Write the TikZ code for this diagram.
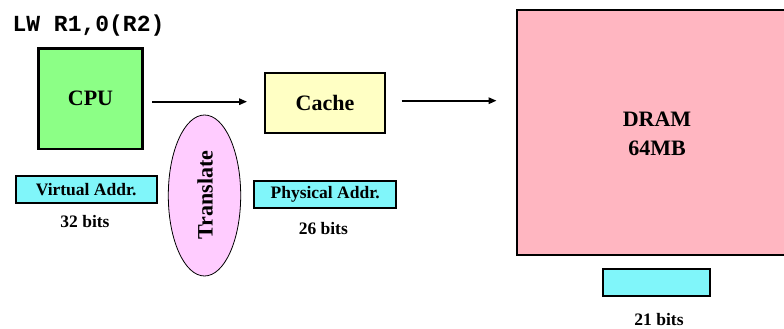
\documentclass[tikz,border=0pt]{standalone}
\usepackage{fontspec}
\setmainfont{Liberation Serif}
\setmonofont{Liberation Mono}
\usetikzlibrary{arrows.meta,shapes.geometric}
\definecolor{cpugreen}{HTML}{8CFF86}
\definecolor{cacheyellow}{HTML}{FFFFC4}
\definecolor{drampink}{HTML}{FFB6C1}
\definecolor{addrcyan}{HTML}{80F6FA}
\definecolor{transpink}{HTML}{FFCCFF}
\tikzset{
  unitbox/.style={draw=black, line width=2.2pt, inner sep=0pt, font=\fontsize{22}{26}\selectfont\bfseries},
  addrbox/.style={draw=black, line width=2pt, fill=addrcyan, inner sep=0pt, font=\fontsize{17.5}{20}\selectfont\bfseries},
  bitslabel/.style={inner sep=0pt, font=\fontsize{17.5}{20}\selectfont\bfseries},
  flow/.style={line width=1.6pt, -{Triangle[length=8pt,width=6.5pt]}}
}
\begin{document}
\begin{tikzpicture}[x=1pt,y=-1pt]
\useasboundingbox (0,0) rectangle (784,329);
\clip (0,0) rectangle (784,329);
\node[inner sep=0pt, anchor=base, font=\fontsize{23}{26}\selectfont\ttfamily\bfseries] (lw) at (88.5,32) {LW R1,0(R2)};
\node[unitbox, fill=cpugreen, minimum width=104pt, minimum height=100.5pt] (cpu) at (90.5,98.7) {CPU};
\node[unitbox, fill=cacheyellow, minimum width=120pt, minimum height=60pt] (cache) at (325,103.3) {Cache};
\node[unitbox, fill=drampink, minimum width=280pt, minimum height=245pt, align=center,
      font=\fontsize{22}{29}\selectfont\bfseries] (dram) at (656.7,132.5) {};
\node[inner sep=0pt, align=center, font=\fontsize{22}{29}\selectfont\bfseries] (dramtxt) at (657,134) {DRAM\\64MB};
\node[addrbox, minimum width=141pt, minimum height=27pt] (va) at (86.2,189.2) {Virtual Addr.};
\node[bitslabel] (vab) at (85,221.5) {32 bits};
\node[ellipse, draw=black, line width=0.8pt, fill=transpink, minimum width=72.4pt, minimum height=161pt, inner sep=0pt] (tr) at (204.5,195.5) {};
\node[rotate=90, inner sep=0pt, font=\fontsize{22}{26}\selectfont\bfseries] (trtxt) at (205,195) {Translate};
\node[addrbox, minimum width=141.7pt, minimum height=27.3pt] (pa) at (325.2,194.7) {Physical Addr.};
\node[bitslabel] (pab) at (323.3,228.3) {26 bits};
\node[addrbox, minimum width=107.3pt, minimum height=27.3pt] (dbox) at (656.3,282.3) {};
\node[bitslabel] (db) at (659,320) {21 bits};
\coordinate (a1s) at (152,101.7);
\coordinate (a1e) at (247,101.7);
\coordinate (a2s) at (401.7,100.7);
\coordinate (a2e) at (496.5,100.7);
\draw[flow] (a1s) -- (a1e);
\draw[flow] (a2s) -- (a2e);
\end{tikzpicture}
\end{document}
